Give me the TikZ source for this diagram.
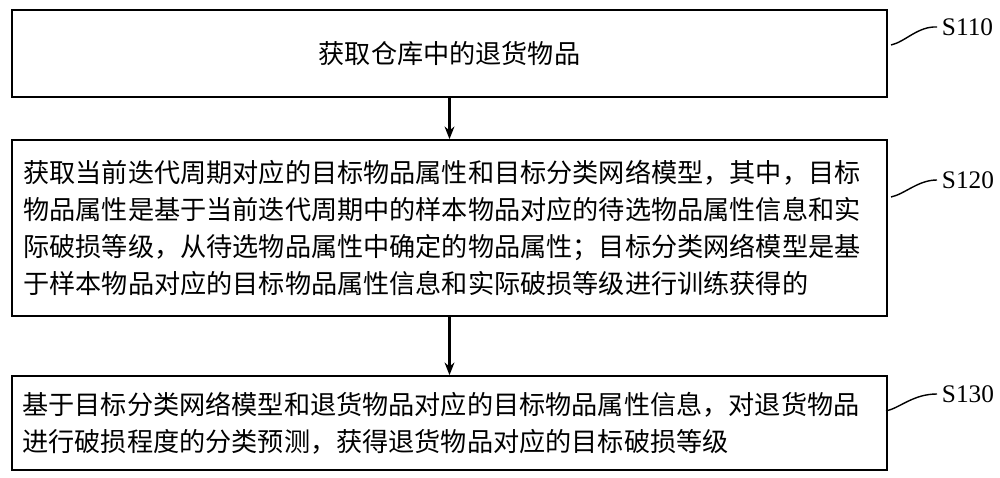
\documentclass[tikz,border=0pt]{standalone}
\usepackage{fontspec}
\setmainfont{Liberation Serif}
\newfontfamily\cjk{Noto Sans CJK SC}
\usetikzlibrary{positioning,arrows.meta}
\begin{document}
\begin{tikzpicture}[x=0.025cm,y=-0.025cm]
  \tikzstyle{stepbox}=[draw,line width=1.2pt,minimum width=875*0.025cm,inner sep=0pt]
  \tikzstyle{txt}=[font=\cjk\fontsize{18.6}{26.2}\selectfont,align=left]
  \tikzstyle{lab}=[font=\fontsize{18}{22}\selectfont,anchor=west]
  \useasboundingbox (0,0) rectangle (1000,478);
  \node[stepbox,minimum height=87*0.025cm] at (449.5,53.5) (b1) {};
  \node[stepbox,minimum height=176*0.025cm] at (449.5,228) (b2) {};
  \node[stepbox,minimum height=94*0.025cm] at (449.5,423) (b3) {};
  \node[font=\cjk\fontsize{18.6}{26.2}\selectfont] at (449.5,53.5) (t1) {获取仓库中的退货物品};
  \node[txt] at (442,228) (t2) {获取当前迭代周期对应的目标物品属性和目标分类网络模型，其中，目标\\
物品属性是基于当前迭代周期中的样本物品对应的待选物品属性信息和实\\
际破损等级，从待选物品属性中确定的物品属性；目标分类网络模型是基\\
于样本物品对应的目标物品属性信息和实际破损等级进行训练获得的};
  \node[txt] at (441,423) (t3) {基于目标分类网络模型和退货物品对应的目标物品属性信息，对退货物品\\
进行破损程度的分类预测，获得退货物品对应的目标破损等级};
  \draw[line width=1.6pt,-{Stealth[length=9pt,width=7pt]}] (b1.south) -- (b2.north);
  \draw[line width=1.6pt,-{Stealth[length=9pt,width=7pt]}] (b2.south) -- (b3.north);
  % step labels
  \foreach \n/\y/\s in {1/27/S110,2/180/S120,3/394/S130}{
    \node[lab] at (937,\y) (s\n) {\s};
  }
  \draw[line width=1pt] (891,45) .. controls (905,42) and (918,26) .. (s1.west);
  \draw[line width=1pt] (891,197) .. controls (905,194) and (918,180) .. (s2.west);
  \draw[line width=1pt] (886,411) .. controls (900,408) and (913,394) .. (s3.west);
\end{tikzpicture}
\end{document}
